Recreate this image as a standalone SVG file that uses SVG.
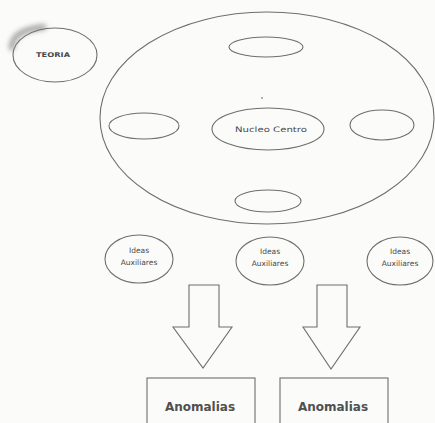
<svg xmlns="http://www.w3.org/2000/svg" width="435" height="423" viewBox="0 0 435 423">
<defs>
<filter id="blur" x="-30%" y="-30%" width="160%" height="160%"><feGaussianBlur stdDeviation="2.5"/></filter>
</defs>
<style>
.sh{fill:none;stroke:#6e6e6e;stroke-width:1.1}
.t{font-family:"DejaVu Sans","Liberation Sans",sans-serif;fill:#4a4a4a;text-anchor:middle}
.s{font-size:7.5px}
.a{font-size:12px;font-weight:bold;fill:#505050}
</style>
<rect width="435" height="423" fill="#fbfbfa"/>
<g id="teoria">
<path d="M12,50 C10,36 24,28 46,27" fill="none" stroke="#a8a8a8" stroke-width="6" filter="url(#blur)"/>
<ellipse class="sh" cx="55" cy="55" rx="42" ry="27"/>
<text class="t" x="53" y="57" style="font-size:6.5px;font-weight:bold" textLength="34" lengthAdjust="spacingAndGlyphs">TEORIA</text>
</g>
<g id="outer">
<ellipse class="sh" cx="267" cy="118" rx="167" ry="106"/>
<circle cx="262" cy="98" r="0.8" fill="#555"/>
</g>
<g id="top"><ellipse class="sh" cx="266" cy="47" rx="37" ry="10"/></g>
<g id="left"><ellipse class="sh" cx="144" cy="126" rx="35" ry="13"/></g>
<g id="nucleo">
<ellipse class="sh" cx="268" cy="129" rx="56" ry="21"/>
<text class="t s" x="271" y="132" textLength="72" lengthAdjust="spacingAndGlyphs">Nucleo Centro</text>
</g>
<g id="right"><ellipse class="sh" cx="382" cy="125" rx="32" ry="15"/></g>
<g id="bottom"><ellipse class="sh" cx="268" cy="201" rx="33" ry="11"/></g>
<g id="ideas1">
<ellipse class="sh" cx="139" cy="259" rx="34" ry="24"/>
<text class="t s" x="139" y="253">Ideas</text>
<text class="t s" x="139" y="265">Auxiliares</text>
</g>
<g id="ideas2">
<ellipse class="sh" cx="270" cy="261" rx="34" ry="24"/>
<text class="t s" x="270" y="254">Ideas</text>
<text class="t s" x="270" y="266">Auxiliares</text>
</g>
<g id="ideas3">
<ellipse class="sh" cx="400" cy="261" rx="33" ry="24"/>
<text class="t s" x="400" y="254">Ideas</text>
<text class="t s" x="400" y="266">Auxiliares</text>
</g>
<g id="connectors">
<path class="sh" d="M189,285 H219 V327 H232 L203,368 L173,327 H189 Z"/>
<path class="sh" d="M317,285 H347 V327 H360 L331,369 L303,327 H317 Z"/>
</g>
<g id="anom1">
<rect class="sh" x="147" y="378" width="108" height="50"/>
<text class="t a" x="200" y="411">Anomalias</text>
</g>
<g id="anom2">
<rect class="sh" x="280" y="378" width="108" height="50"/>
<text class="t a" x="333" y="411">Anomalias</text>
</g>
</svg>
